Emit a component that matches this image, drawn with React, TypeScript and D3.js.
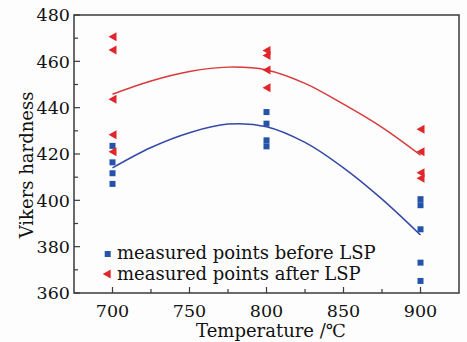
import React from "react";
import * as d3 from "d3";

const temps = [700, 800, 900];
const beforeLSP: number[][] = [
  [423.5, 416.4, 411.7, 407.1],
  [438.1, 433.1, 425.9, 423.3],
  [400.5, 397.9, 387.5, 373.1, 365.2],
];
const afterLSP: number[][] = [
  [470.6, 464.9, 443.6, 428.3, 421.0],
  [464.7, 462.5, 456.3, 448.6],
  [430.7, 421.0, 411.9, 409.5],
];
const fitX = [700, 725, 750, 775, 800, 825, 850, 875, 900];
const fitBefore = [414, 422.8, 429.2, 432.9, 431.8, 425, 414, 400.5, 385];
const fitAfter = [445.8, 451.5, 455.6, 457.5, 456.3, 450.5, 441.5, 431.5, 419.5];
const xTicks = [700, 750, 800, 850, 900];
const xMinor = [725, 775, 825, 875];
const yTicks = [360, 380, 400, 420, 440, 460, 480];
const yMinor = [370, 390, 410, 430, 450, 470];
const legendLabels = ["measured points before LSP", "measured points after LSP"];

const W = 467, H = 342;
const L = 74, R = 459, T = 15, B = 293;
const RED = "#e0262a";
const BLUE = "#2553aa";
const LINE_RED = "#d83a3c";
const LINE_BLUE = "#3448a6";
const AXIS = "#3a3a3a";
const FONT = "DejaVu Serif";

export default function App() {
  const x = d3.scaleLinear().domain([675, 925]).range([L, R]);
  const y = d3.scaleLinear().domain([360, 480]).range([B, T]);
  const line = d3
    .line<number>()
    .x((_, i) => x(fitX[i]))
    .y((v) => y(v))
    .curve(d3.curveCatmullRom.alpha(0.5));

  const sq = 6;
  const tri = (cx: number, cy: number) =>
    `M${cx - 4},${cy} L${cx + 4},${cy - 4.5} L${cx + 4},${cy + 4.5} Z`;

  return (
    <svg
      width={W}
      height={H}
      style={{ position: "absolute", left: 0, top: 0, background: "#fdfdfd" }}
    >
      <path d={line(fitAfter) || ""} fill="none" stroke={LINE_RED} strokeWidth={1.5} />
      <path d={line(fitBefore) || ""} fill="none" stroke={LINE_BLUE} strokeWidth={1.5} />
      {temps.map((t, i) =>
        beforeLSP[i].map((v, j) => (
          <rect
            key={`b${i}-${j}`}
            x={x(t) - sq / 2}
            y={y(v) - sq / 2}
            width={sq}
            height={sq}
            fill={BLUE}
          />
        ))
      )}
      {temps.map((t, i) =>
        afterLSP[i].map((v, j) => (
          <path key={`a${i}-${j}`} d={tri(x(t), y(v))} fill={RED} />
        ))
      )}
      <rect x={L} y={T} width={R - L} height={B - T} fill="none" stroke={AXIS} strokeWidth={1.5} />
      {xTicks.map((t) => (
        <g key={`xt${t}`}>
          <line x1={x(t)} x2={x(t)} y1={B} y2={B - 6} stroke={AXIS} strokeWidth={1.2} />
          <text
            x={x(t)}
            y={B + 24}
            textAnchor="middle"
            fontFamily={FONT}
            fontSize={17.5}
            fill="#111"
          >
            {t}
          </text>
        </g>
      ))}
      {xMinor.map((t) => (
        <line key={`xm${t}`} x1={x(t)} x2={x(t)} y1={B} y2={B - 4} stroke={AXIS} strokeWidth={1.2} />
      ))}
      {yTicks.map((v) => (
        <g key={`yt${v}`}>
          <line x1={L} x2={L + 6} y1={y(v)} y2={y(v)} stroke={AXIS} strokeWidth={1.2} />
          <text
            x={L - 4}
            y={y(v)}
            dy="0.36em"
            textAnchor="end"
            fontFamily={FONT}
            fontSize={17.5}
            fill="#111"
          >
            {v}
          </text>
        </g>
      ))}
      {yMinor.map((v) => (
        <line key={`ym${v}`} x1={L} x2={L + 4} y1={y(v)} y2={y(v)} stroke={AXIS} strokeWidth={1.2} />
      ))}
      <text
        x={271}
        y={337}
        textAnchor="middle"
        fontFamily={FONT}
        fontSize={18}
        fill="#111"
      >
        Temperature /℃
      </text>
      <text
        transform={`translate(33,165) rotate(-90)`}
        textAnchor="middle"
        fontFamily={FONT}
        fontSize={18}
        fill="#111"
      >
        Vikers hardness
      </text>
      <rect x={107.7 - sq / 2} y={254 - sq / 2} width={sq} height={sq} fill={BLUE} />
      <text x={117} y={259} fontFamily={FONT} fontSize={18} fill="#111">
        {legendLabels[0]}
      </text>
      <path d={tri(106.7, 274)} fill={RED} />
      <text x={117} y={279.5} fontFamily={FONT} fontSize={18} fill="#111">
        {legendLabels[1]}
      </text>
    </svg>
  );
}
